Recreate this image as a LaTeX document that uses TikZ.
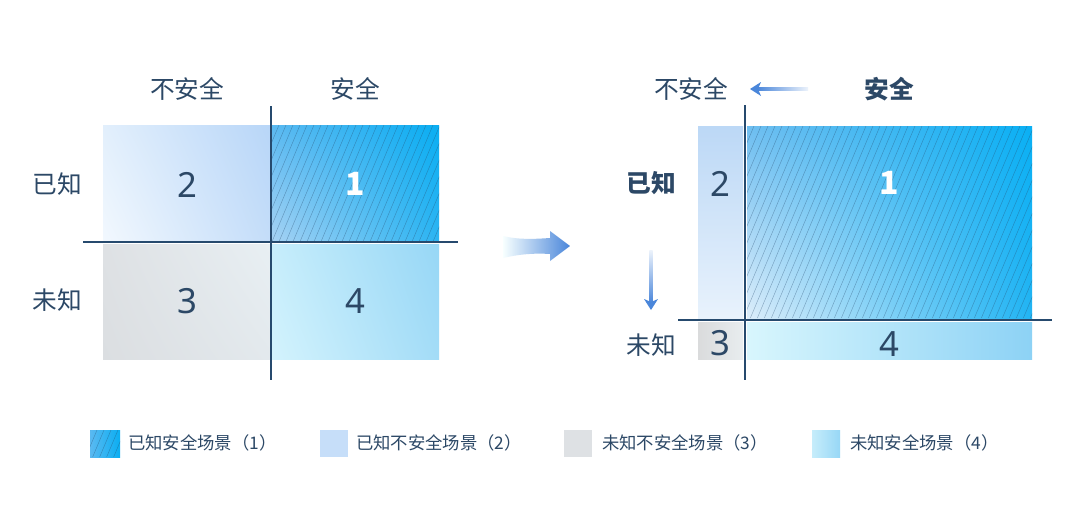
\documentclass[tikz,border=0pt]{standalone}
\usepackage{fontspec}
\setmainfont{Noto Sans CJK SC}
\newfontfamily\numfont{Noto Sans}
\usetikzlibrary{arrows.meta,shadings}
\definecolor{navy}{HTML}{264A6E}
\definecolor{txt}{HTML}{2C4866}
\definecolor{arrowblue}{HTML}{4A86DA}
% quadrant colours (left)
\definecolor{aUL}{HTML}{E2EFFC}\definecolor{aUR}{HTML}{B8D6F8}\definecolor{aLL}{HTML}{F2F8FE}\definecolor{aLR}{HTML}{C4DDF9}
\definecolor{bUL}{HTML}{5AB9F1}\definecolor{bUR}{HTML}{0AAEF2}\definecolor{bLL}{HTML}{A6D2F3}\definecolor{bLR}{HTML}{2CB4F2}
\definecolor{cUL}{HTML}{DEE1E4}\definecolor{cUR}{HTML}{E8EFF3}\definecolor{cLL}{HTML}{DBDEE1}\definecolor{cLR}{HTML}{E3E9ED}
\definecolor{dUL}{HTML}{C6EDFB}\definecolor{dUR}{HTML}{97D7F6}\definecolor{dLL}{HTML}{D3F3FD}\definecolor{dLR}{HTML}{A3DCF7}
% right
\definecolor{eUL}{HTML}{6EBEF0}\definecolor{eUR}{HTML}{0AB0F4}\definecolor{eLL}{HTML}{DCEDFA}\definecolor{eLR}{HTML}{22B4F3}
\definecolor{fT}{HTML}{BCD8F6}\definecolor{fB}{HTML}{E8F2FC}
\definecolor{gL}{HTML}{DADBDC}\definecolor{gR}{HTML}{E8EDEF}
\definecolor{hL}{HTML}{D8F6FD}\definecolor{hR}{HTML}{8DD2F5}
\newcommand{\myhatch}[4]{%
  \begin{scope}
    \clip (#1,#2) rectangle (#3,#4);
    \pgfmathsetmacro\myhD{(#4-#2)*0.42}
    \pgfmathsetmacro\myhS{#1-\myhD}
    \pgfmathsetmacro\myhN{\myhS+7}
    \foreach \xx in {\myhS,\myhN,...,#3} \draw[hatchline] (\xx,#4) -- ({\xx+\myhD},#2);
  \end{scope}}
\tikzset{
  hatchline/.style={line width=0.3pt, draw=navy, opacity=0.45},
  axis/.style={line width=2.2pt, draw=navy},
  lbl/.style={text=txt, font=\fontsize{18.5}{18.5}\selectfont, inner sep=0pt},
  blbl/.style={text=txt, font=\fontsize{18.5}{18.5}\selectfont\bfseries, inner sep=0pt},
  num/.style={text=txt, font=\numfont\fontsize{26}{26}\selectfont, inner sep=0pt},
  one/.style={text=white, font=\fontsize{24}{24}\selectfont\bfseries, inner sep=0pt},
  leg/.style={text=txt, font=\fontsize{13}{13}\selectfont, inner sep=0pt, anchor=west},
}
\begin{document}
\begin{tikzpicture}[x=0.75pt,y=-0.75pt]
\useasboundingbox (0,0) rectangle (1080,510);
\fill[white] (0,0) rectangle (1080,510);
% ---------- left matrix ----------
\shade[upper left=aUL, upper right=aUR, lower left=aLL, lower right=aLR] (103,125) rectangle (270,242);
\shade[upper left=bUL, upper right=bUR, lower left=bLL, lower right=bLR] (272,125) rectangle (439,242);
\myhatch{272}{125}{439}{242}
\shade[upper left=cUL, upper right=cUR, lower left=cLL, lower right=cLR] (103,244) rectangle (270,359);
\shade[upper left=dUL, upper right=dUR, lower left=dLL, lower right=dLR] (272,244) rectangle (439,359);
\coordinate (lvT) at (271,106); \coordinate (lvB) at (271,380);
\coordinate (lhL) at (83,242); \coordinate (lhR) at (458,242);
\draw[axis] (lvT) -- (lvB);
\draw[axis] (lhL) -- (lhR);
\node[lbl] (lc1) at (187,89) {不安全};
\node[lbl] (lc2) at (355,89) {安全};
\node[lbl] (lr1) at (57,184) {已知};
\node[lbl] (lr2) at (57,300) {未知};
\node[num] (ln2) at (187,185) {2};
\node[one] (ln1) at (355,184) {1};
\node[num] (ln3) at (187,301) {3};
\node[num] (ln4) at (355,301) {4};
% ---------- middle arrow ----------
\shade[left color=white!80!cyan!15, right color=arrowblue]
  (503,236) .. controls (520,240) and (535,239) .. (550,238) -- (550,231) -- (570,246) -- (550,261) -- (550,254)
  .. controls (535,253) and (520,254) .. (503,258) -- cycle;
% ---------- right matrix ----------
\shade[top color=fT, bottom color=fB] (698,126) rectangle (743,318);
\shade[upper left=eUL, upper right=eUR, lower left=eLL, lower right=eLR] (747,126) rectangle (1032,318);
\myhatch{747}{126}{1032}{318}
\shade[left color=gL, right color=gR] (698,322) rectangle (743,359);
\shade[left color=hL, right color=hR] (747,322) rectangle (1032,359);
\coordinate (rvT) at (745,105); \coordinate (rvB) at (745,380);
\coordinate (rhL) at (678,320); \coordinate (rhR) at (1052,320);
\draw[axis] (rvT) -- (rvB);
\draw[axis] (rhL) -- (rhR);
\node[lbl] (rc1) at (691,89) {不安全};
\node[blbl] (rc2) at (889,89) {安全};
\node[blbl] (rr1) at (651,183) {已知};
\node[lbl] (rr2) at (651,345) {未知};
\node[num] (rn2) at (720,184) {2};
\node[one] (rn1) at (889,183) {1};
\node[num] (rn3) at (720,343) {3};
\node[num] (rn4) at (889,344) {4};
% top arrow (safe -> unsafe)
\coordinate (taS) at (808,89); \coordinate (taE) at (750,89);
\shade[left color=arrowblue, right color=arrowblue!10] (757,87.3) rectangle (808,90.7);
\fill[arrowblue] (taE) -- ++(11,-7) -- ++(-3,7) -- ++(3,7) -- cycle;
% down arrow (known -> unknown)
\coordinate (daS) at (651,250); \coordinate (daE) at (651,310);
\shade[top color=arrowblue!10, bottom color=arrowblue] (649.3,250) rectangle (652.7,303);
\fill[arrowblue] (daE) -- ++(-7,-11) -- ++(7,3) -- ++(7,-3) -- cycle;
% ---------- legend ----------
\shade[left color=bUL, right color=bUR] (90,430) rectangle (120,457);
\myhatch{90}{430}{120}{457}
\node[leg] (lg1) at (128,443) {已知安全场景（1）};
\fill[aUR!80!white] (320,430) rectangle (348,457);
\node[leg] (lg2) at (356,443) {已知不安全场景（2）};
\fill[cUL] (564,430) rectangle (592,457);
\node[leg] (lg3) at (602,443) {未知不安全场景（3）};
\shade[left color=dUL, right color=dUR] (812,430) rectangle (840,457);
\node[leg] (lg4) at (850,443) {未知安全场景（4）};
\end{tikzpicture}
\end{document}
